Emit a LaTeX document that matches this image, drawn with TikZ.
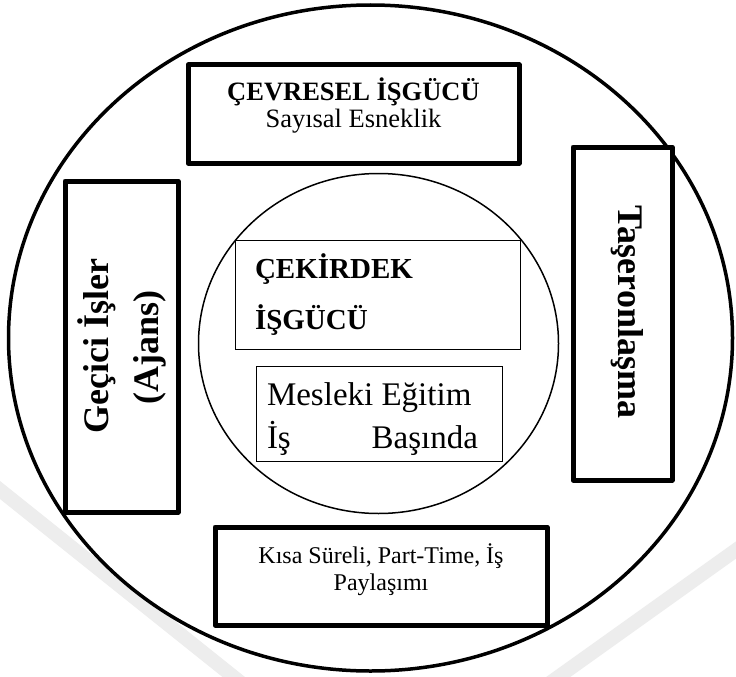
\documentclass[tikz,border=0pt]{standalone}
\usepackage{fontspec}
\setmainfont{Liberation Serif}
\begin{document}
\begin{tikzpicture}[x=1pt,y=-1pt,
  thickbox/.style={draw, line width=5pt, fill=white, line join=round, inner sep=0pt},
  thinbox/.style={draw, line width=1pt, inner sep=0pt},
  lbl/.style={inner sep=0pt, outer sep=0pt},
  wmark/.style={draw=black!7, line width=14pt}]
\useasboundingbox (0,0) rectangle (736,677);
\fill[white] (0,0) rectangle (736,677);
% faint watermark bands
\begin{scope}
\clip (0,0) rectangle (736,677);
\draw[wmark] (-10,482) -- (250,690);
\draw[wmark] (540,690) -- (750,540);
\end{scope}
% outer ring
\draw[line width=3.5pt] (370.5,338) ellipse [x radius=362, y radius=333];
% outer boxes
\node[thickbox, minimum width=331pt, minimum height=98pt] (top) at (353.5,114) {};
\node[thickbox, minimum width=113pt, minimum height=331pt] (left) at (121.5,346.5) {};
\node[thickbox, minimum width=99pt, minimum height=333pt] (right) at (622.5,313.5) {};
\node[thickbox, minimum width=332pt, minimum height=98pt] (bottom) at (381,576) {};
% inner circle
\draw[line width=1.5pt] (378.5,343.5) ellipse [x radius=180, y radius=170];
\node[thinbox, minimum width=285pt, minimum height=109pt] (core) at (377.5,294.5) {};
\node[thinbox, minimum width=246pt, minimum height=95pt] (train) at (379,413.5) {};
% texts
\node[lbl, anchor=base, font=\fontsize{26.5}{30}\selectfont\bfseries] (cev) at (353.5,100) {ÇEVRESEL İŞGÜCÜ};
\node[lbl, anchor=base, font=\fontsize{26.5}{30}\selectfont] (say) at (353.5,127) {Sayısal Esneklik};
\node[lbl, anchor=base, rotate=90, font=\fontsize{36}{40}\selectfont\bfseries] (gec) at (108,346) {Geçici İşler};
\node[lbl, anchor=base, rotate=90, font=\fontsize{36}{40}\selectfont\bfseries] (ajans) at (158,347) {(Ajans)};
\node[lbl, anchor=base, rotate=-90, font=\fontsize{36}{40}\selectfont\bfseries] (tas) at (618,312) {Taşeronlaşma};
\node[lbl, anchor=base west, font=\fontsize{29}{32}\selectfont\bfseries] (cek1) at (255,278) {ÇEKİRDEK};
\node[lbl, anchor=base west, font=\fontsize{29}{32}\selectfont\bfseries] (cek2) at (255,329) {İŞGÜCÜ};
\node[lbl, anchor=base west, font=\fontsize{33}{36}\selectfont] (mes1) at (267,405) {Mesleki Eğitim};
\node[lbl, anchor=base west, font=\fontsize{33}{36}\selectfont] (mes2) at (267,448) {İş};
\node[lbl, anchor=base east, font=\fontsize{33}{36}\selectfont] (mes3) at (478,448) {Başında};
\node[lbl, anchor=base, font=\fontsize{24}{27}\selectfont] (kisa1) at (381,563) {Kısa Süreli, Part-Time, İş};
\node[lbl, anchor=base, font=\fontsize{24}{27}\selectfont] (kisa2) at (381,590) {Paylaşımı};
\end{tikzpicture}
\end{document}
